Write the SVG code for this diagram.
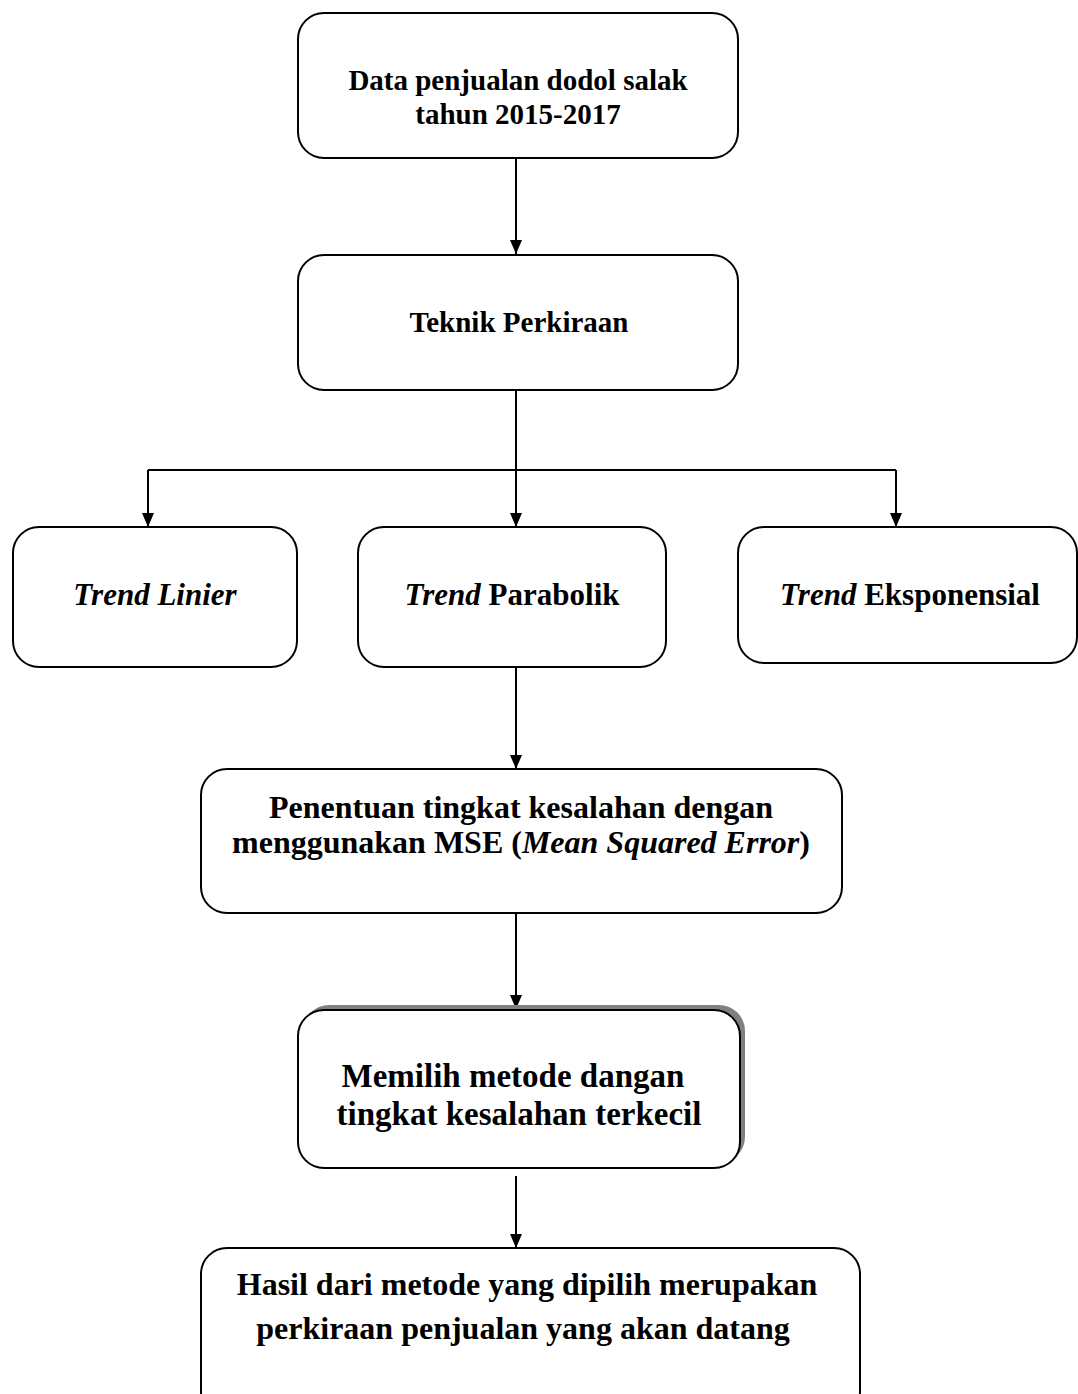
<svg xmlns="http://www.w3.org/2000/svg" width="1078" height="1394" viewBox="0 0 1078 1394">
<style>
.box{fill:#fff;stroke:#000;stroke-width:2}
.t{font-family:"Liberation Serif","Times New Roman",serif;font-weight:bold;fill:#000;text-anchor:middle}
.i{font-style:italic}
.c{fill:none;stroke:#000;stroke-width:2}
</style>
<defs>
<marker id="ah" markerWidth="14" markerHeight="12" refX="14" refY="6" orient="auto" markerUnits="userSpaceOnUse" viewBox="0 0 14 12">
<path d="M0,0 L14,6 L0,12 Z" fill="#000"/>
</marker>
</defs>
<rect width="1078" height="1394" fill="#fff"/>
<g id="connectors">
<path class="c" d="M516,158 V254" marker-end="url(#ah)"/>
<path class="c" d="M516,390 V470 M148,470 H896"/>
<path class="c" d="M148,470 V527" marker-end="url(#ah)"/>
<path class="c" d="M516,470 V527" marker-end="url(#ah)"/>
<path class="c" d="M896,470 V527" marker-end="url(#ah)"/>
<path class="c" d="M516,667 V769" marker-end="url(#ah)"/>
<path class="c" d="M516,913 V1009" marker-end="url(#ah)"/>
<path class="c" d="M516,1176 V1248" marker-end="url(#ah)"/>
</g>
<g id="n1">
<rect class="box" x="298" y="13" width="440" height="145" rx="26"/>
<text class="t" x="518" y="90" font-size="29">Data penjualan dodol salak</text>
<text class="t" x="518" y="124" font-size="29">tahun 2015-2017</text>
</g>
<g id="n2">
<rect class="box" x="298" y="255" width="440" height="135" rx="26"/>
<text class="t" x="519" y="332" font-size="29">Teknik Perkiraan</text>
</g>
<g id="n3">
<rect class="box" x="13" y="527" width="284" height="140" rx="26"/>
<text class="t i" x="155" y="605" font-size="31">Trend Linier</text>
</g>
<g id="n4">
<rect class="box" x="358" y="527" width="308" height="140" rx="26"/>
<text class="t" x="512" y="605" font-size="31"><tspan class="i">Trend</tspan> Parabolik</text>
</g>
<g id="n5">
<rect class="box" x="738" y="527" width="339" height="136" rx="26"/>
<text class="t" x="910" y="605" font-size="31"><tspan class="i">Trend</tspan> Eksponensial</text>
</g>
<g id="n6">
<rect class="box" x="201" y="769" width="641" height="144" rx="26"/>
<text class="t" x="521" y="818" font-size="32">Penentuan tingkat kesalahan dengan</text>
<text class="t" x="521" y="853" font-size="32">menggunakan MSE (<tspan class="i">Mean Squared Error</tspan>)</text>
</g>
<g id="n7">
<rect x="303" y="1005" width="442" height="158" rx="26" fill="#808080"/>
<rect class="box" x="298" y="1010" width="442" height="158" rx="26"/>
<text class="t" x="513" y="1087" font-size="33">Memilih metode dangan</text>
<text class="t" x="519" y="1125" font-size="33">tingkat kesalahan terkecil</text>
</g>
<g id="n8">
<rect class="box" x="201" y="1248" width="659" height="170" rx="26"/>
<text class="t" x="527" y="1295" font-size="32">Hasil dari metode yang dipilih merupakan</text>
<text class="t" x="523" y="1339" font-size="32">perkiraan penjualan yang akan datang</text>
</g>
</svg>
